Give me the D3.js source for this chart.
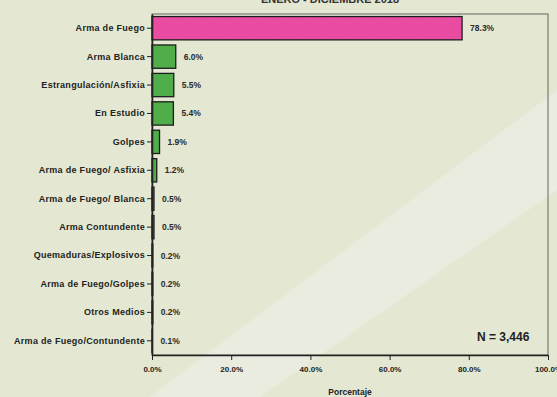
<!DOCTYPE html>
<html>
<head>
<meta charset="utf-8">
<script src="https://cdn.jsdelivr.net/npm/d3@7"></script>
<style>
body { margin:0; background:#e4e8d2; }
svg { display:block; font-family:"Liberation Sans", Arial, sans-serif; }
.axis path, .axis line { stroke:#222; }
.axis text { font-size:9px; font-weight:bold; fill:#222; }
</style>
</head>
<body>
<div id="chart"></div>
<script>
var width = 557;
var height = 397;

var margin = {left:152,right:8,top:14,bottom:42};

var categories = ["Arma de Fuego","Arma Blanca","Estrangulación/Asfixia","En Estudio","Golpes",
                  "Arma de Fuego/ Asfixia","Arma de Fuego/ Blanca","Arma Contundente",
                  "Quemaduras/Explosivos","Arma de Fuego/Golpes","Otros Medios","Arma de Fuego/Contundente"];
var values = [78.3, 6.0, 5.5, 5.4, 1.9, 1.2, 0.5, 0.5, 0.2, 0.2, 0.2, 0.1];
var xTicks = [0, 20, 40, 60, 80, 100];

var svg = d3.select("#chart")
			.append("svg")
			.attr("width",width)
			.attr("height",height);

// scanned page background with the lighter diagonal swath
svg.append("rect").attr("width",width).attr("height",height).attr("fill","#e4e8d2");
svg.append("path")
	.attr("d","M150,397 L557,90 L557,190 L260,397 Z")
	.attr("fill","#eaece0");

svg.append("text")
	.attr("x",330).attr("y",3)
	.attr("text-anchor","middle")
	.style("font-size","11px").style("font-weight","bold").style("fill","#333")
	.text("ENERO - DICIEMBRE 2018");

var pw = width - margin.left - margin.right;
var ph = height - margin.top - margin.bottom;

var x = d3.scaleLinear().domain([0,100]).range([0,pw - 1]);
var y = d3.scaleBand().domain(categories).range([0,ph]).paddingInner(0.18).paddingOuter(0.09);

var defs = svg.append("defs");
var hatch = defs.append("pattern")
	.attr("id","hatch").attr("patternUnits","userSpaceOnUse")
	.attr("width",3).attr("height",3);
hatch.append("rect").attr("width",3).attr("height",3).attr("fill","#ee4fa6");
hatch.append("path").attr("d","M0,3 L3,0").attr("stroke","#d8408f").attr("stroke-width",0.6);

var g = svg.append("g").attr("transform","translate(" + margin.left + "," + margin.top + ")");

// frame
g.append("rect").attr("width",pw - 1).attr("height",ph)
	.attr("fill","none").attr("stroke","#444").attr("stroke-width",0.8);

g.selectAll(".bar")
	.data(values)
	.enter().append("rect")
	.attr("class","bar")
	.attr("x",0)
	.attr("y",function(d,i){ return y(categories[i]); })
	.attr("width",function(d){ return x(d); })
	.attr("height",y.bandwidth())
	.attr("fill",function(d,i){ return i === 0 ? "url(#hatch)" : "#4fae4a"; })
	.attr("stroke","#1c1c1c")
	.attr("stroke-width",1.3);

g.selectAll(".lbl")
	.data(values)
	.enter().append("text")
	.attr("class","lbl")
	.attr("x",function(d){ return x(d) + 8; })
	.attr("y",function(d,i){ return y(categories[i]) + y.bandwidth()/2 + 3; })
	.style("font-size","8.5px").style("font-weight","bold").style("fill","#2a2a2a")
	.text(function(d){ return d.toFixed(1) + "%"; });

var yAxis = d3.axisLeft(y).tickSize(5).tickPadding(2).tickSizeOuter(0);
g.append("g").attr("class","axis y").call(yAxis)
	.call(function(s){ s.select(".domain").attr("stroke-width",1.6); })
	.selectAll("text").style("font-size","9px").style("letter-spacing","0.3px");

var xAxis = d3.axisBottom(x).tickValues(xTicks).tickSize(5).tickPadding(6).tickSizeOuter(0)
	.tickFormat(function(d){ return d.toFixed(1) + "%"; });
g.append("g").attr("class","axis x").attr("transform","translate(0," + ph + ")").call(xAxis)
	.call(function(s){ s.select(".domain").attr("stroke","#3a4aa0").attr("stroke-width",1.6); })
	.selectAll("text").style("font-size","8px");

svg.append("text")
	.attr("x",margin.left + x(50)).attr("y",395)
	.attr("text-anchor","middle")
	.style("font-size","8.5px").style("font-weight","bold").style("fill","#222")
	.text("Porcentaje");

g.append("text")
	.attr("x",x(95.3)).attr("y",y(categories[11]) + y.bandwidth()/2)
	.attr("text-anchor","end")
	.style("font-size","12px").style("font-weight","bold").style("fill","#222")
	.text("N = 3,446");
</script>
</body>
</html>
